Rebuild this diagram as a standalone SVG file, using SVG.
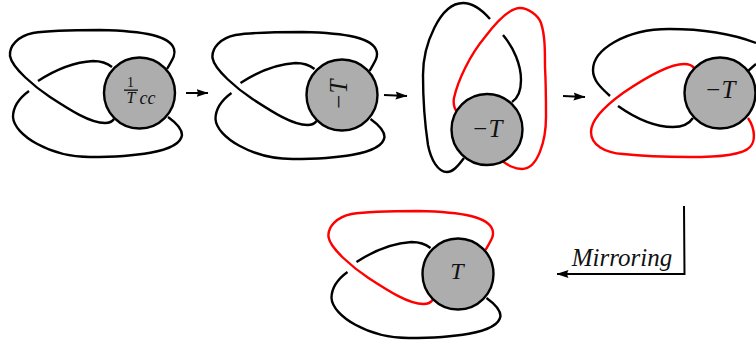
<svg xmlns="http://www.w3.org/2000/svg" width="756" height="344" viewBox="0 0 756 344">
<style>
.s{fill:none;stroke:#000;stroke-width:2.4;stroke-linecap:butt}
.r{stroke:#f00}
.c{fill:#adadad;stroke:#000;stroke-width:2.4}
.a{fill:none;stroke:#000;stroke-width:2}
text{font-family:"Liberation Serif","Times New Roman",serif;font-style:italic;fill:#111;text-anchor:middle}
.t{font-size:25px}
</style>
<defs>
<marker id="h" markerUnits="userSpaceOnUse" markerWidth="12" markerHeight="9" refX="11.500" refY="4.500" orient="auto"><path d="M0 .5L12 4.500L0 8.500Q2.500 4.500 0 .5Z" fill="#000"/></marker>
<path id="k1" d="M167 69C172 60 176 55 174 49C170 36 145 31 100 30C70 30 45 31 33 33C18 36 9 46 10 56C12 68 35 87 50 97C70 110 90 123 105 123C109 123 112 122 114 119"/>
<path id="k2" d="M38 81C55 70 75 62 93 61C101 61 107 63 112 67"/>
<path id="k3" d="M29 91C18 99 13 107 13 117C14 135 50 157 90 157C130 157 180 153 182 135C182 128 175 122 168 117"/>
</defs>
<g id="connectors">
<path class="a" marker-end="url(#h)" d="M186 93L208 93"/>
<path class="a" marker-end="url(#h)" d="M384 95L407 96"/>
<path class="a" marker-end="url(#h)" d="M563 96L585 97"/>
<path class="a" marker-end="url(#h)" d="M684 206L684.500 274L557 274"/>
</g>
<g id="knot1">
<use href="#k1" class="s"/><use href="#k2" class="s"/><use href="#k3" class="s"/>
<circle class="c" cx="139.500" cy="93" r="35.500"/>
<text x="130.500" y="87" font-size="14" style="font-style:normal">1</text>
<rect x="124" y="89.500" width="14" height="1.300" fill="#111"/>
<text x="131" y="103" font-size="16">T</text>
<text x="147.500" y="104" font-size="18">cc</text>
</g>
<g id="knot2" transform="translate(202.500 2)">
<use href="#k1" class="s"/><use href="#k2" class="s"/><use href="#k3" class="s"/>
<circle class="c" cx="139.500" cy="93" r="35.500"/>
<text class="t" transform="translate(144.500 93) rotate(-90)">−T</text>
</g>
<g id="knot3">
<path class="s" d="M464 158C458 166 453 172 447 172C438 172 431 160 428 145C425 125 423 100 423 75C423 45 440 3 463 3C473 3 483 11 490 19"/>
<path class="s" d="M503 35C514 48 521 65 521 80C521 92 518 98 512 102"/>
<path class="s r" d="M457 112C454 108 453 104 454 98C458 80 470 55 485 37C498 20 510 8 520 8C528 8 538 15 541 23C545 35 545 50 545 67C546 85 546 100 546 117C546 140 538 169 522 169C514 169 508 165 502 161"/>
<circle class="c" cx="487" cy="129.500" r="35.500"/>
<text class="t" x="487" y="137">−T</text>
</g>
<g id="knot4">
<path class="s" d="M610 96C600 87 593 80 593 70C593 50 625 29 669 29C695 29 725 31 756 43"/>
<path class="s" d="M756 64L748 71"/>
<path class="s" d="M618 106C635 118 655 127 673 127C683 127 689 124 693 118"/>
<path class="s r" d="M694 68C692 65 689 64 684 64C670 64 645 78 623 93C605 106 591 120 591 132C591 145 605 153 623 154C650 157 670 157 689 157C720 157 743 155 750 147C755 142 756 130 748 118"/>
<circle class="c" cx="720" cy="93" r="35.500"/>
<text class="t" x="720" y="98">−T</text>
</g>
<g id="knot5" transform="translate(318.500 181)">
<use href="#k1" class="s r"/><use href="#k2" class="s"/><use href="#k3" class="s"/>
<circle class="c" cx="139.500" cy="93" r="35.500"/>
<text x="138.500" y="98" font-size="24">T</text>
</g>
<text id="label" x="622" y="265.500" font-size="25">Mirroring</text>
</svg>
